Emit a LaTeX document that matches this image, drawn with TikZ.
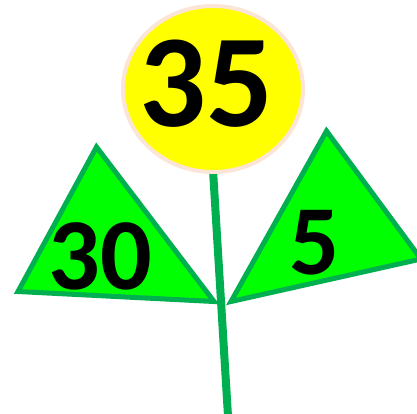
\documentclass[tikz,border=0pt]{standalone}
\usepackage{fontspec}
\setmainfont{Carlito}
\definecolor{leafgreen}{HTML}{00FF00}
\definecolor{darkgreen}{HTML}{00B050}
\definecolor{sunyellow}{HTML}{FFFF00}
\definecolor{rimpink}{HTML}{FBE5D6}
\begin{document}
\begin{tikzpicture}[x=1pt,y=-1pt,
  leaf/.style={fill=leafgreen,draw=darkgreen,line width=5pt,line join=miter},
  stemline/.style={draw=darkgreen,line width=8pt},
  numtext/.style={text=black,inner sep=0pt}]
\useasboundingbox (0,0) rectangle (417,413);
\begin{scope}
\clip (0,0) rectangle (417,413);
% leaves
\draw[leaf] (96.5,147) -- (18,291.5) -- (214,301.5) -- cycle;
\draw[leaf] (326.5,131) -- (231,301.5) -- (421,259) -- cycle;
% stem
\coordinate (stemtop) at (213,170);
\coordinate (stembot) at (228,416);
\draw[stemline] (stemtop) -- (stembot);
% flower
\draw[fill=sunyellow,draw=rimpink,line width=4pt] (213,89) ellipse [x radius=90, y radius=83];
\end{scope}
\node[numtext,font=\fontsize{132}{132}\selectfont\bfseries] (n35) at (206,84) {35};
\node[numtext,font=\fontsize{102}{102}\selectfont\bfseries] (n30) at (100,256.5) {30};
\node[numtext,font=\fontsize{99}{99}\selectfont\bfseries] (n5) at (315,242.5) {5};
\end{tikzpicture}
\end{document}
